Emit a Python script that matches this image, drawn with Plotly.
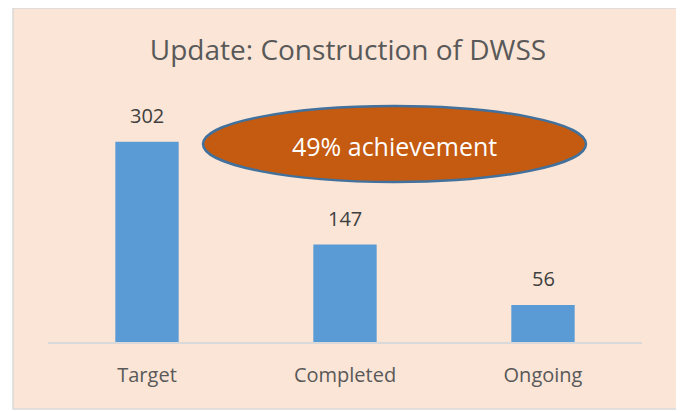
import plotly.graph_objects as go

categories = ["Target", "Completed", "Ongoing"]
values = [302, 147, 56]
title_text = "Update: Construction of DWSS"
callout_text = "49% achievement"

W, H = 684, 411
OFF = 8  # page body margin in the screenshot
L, R, T, B = 40, 50, 102, 77
PW, PH = W - L - R, H - T - B
FONT = "Open Sans, Lato, sans-serif"

def px(x):
    # screenshot pixel x -> paper coordinate
    return (x - OFF - L) / PW

def py(y):
    # screenshot pixel y -> paper coordinate
    return (H - B - (y - OFF)) / PH

fig = go.Figure()
fig.add_trace(go.Bar(
    x=categories, y=values, width=0.32,
    marker=dict(color="#5B9BD5", line=dict(width=0)),
))

shapes = [
    dict(type="rect", xref="paper", yref="paper", layer="below",
         x0=px(13), x1=px(681), y0=py(409), y1=py(8),
         fillcolor="#FBE5D6", line=dict(color="#D9D9D9", width=1.5)),
    dict(type="circle", xref="paper", yref="paper", layer="above",
         x0=px(203), x1=px(586), y0=py(182), y1=py(106),
         fillcolor="#C55A11", line=dict(color="#41719C", width=2.5)),
]

annotations = [dict(text=callout_text, xref="paper", yref="paper",
                    x=px(394), y=py(146), xanchor="center", yanchor="middle",
                    showarrow=False,
                    font=dict(family=FONT, size=25, color="white"))]
for c, v in zip(categories, values):
    annotations.append(dict(text=str(v), x=c, y=v, xref="x", yref="y",
                            xanchor="center", yanchor="middle", yshift=26,
                            showarrow=False,
                            font=dict(family=FONT, size=20, color="#404040")))

fig.update_layout(
    width=W, height=H,
    margin=dict(l=L, r=R, t=T, b=B),
    paper_bgcolor="white",
    plot_bgcolor="rgba(0,0,0,0)",
    showlegend=False,
    shapes=shapes,
    annotations=annotations,
    title=dict(text=title_text, x=px(348), xanchor="center", xref="paper",
               y=1 - (50 - OFF) / H, yanchor="middle",
               font=dict(family=FONT, size=28, color="#595959")),
    xaxis=dict(showline=True, linecolor="#D9D9D9", linewidth=1.5,
               tickfont=dict(family=FONT, size=20, color="#595959"),
               ticks="", showgrid=False, ticklabelstandoff=14),
    yaxis=dict(range=[0, 350], visible=False, showgrid=False, zeroline=False),
)

fig.write_html("out.html")
